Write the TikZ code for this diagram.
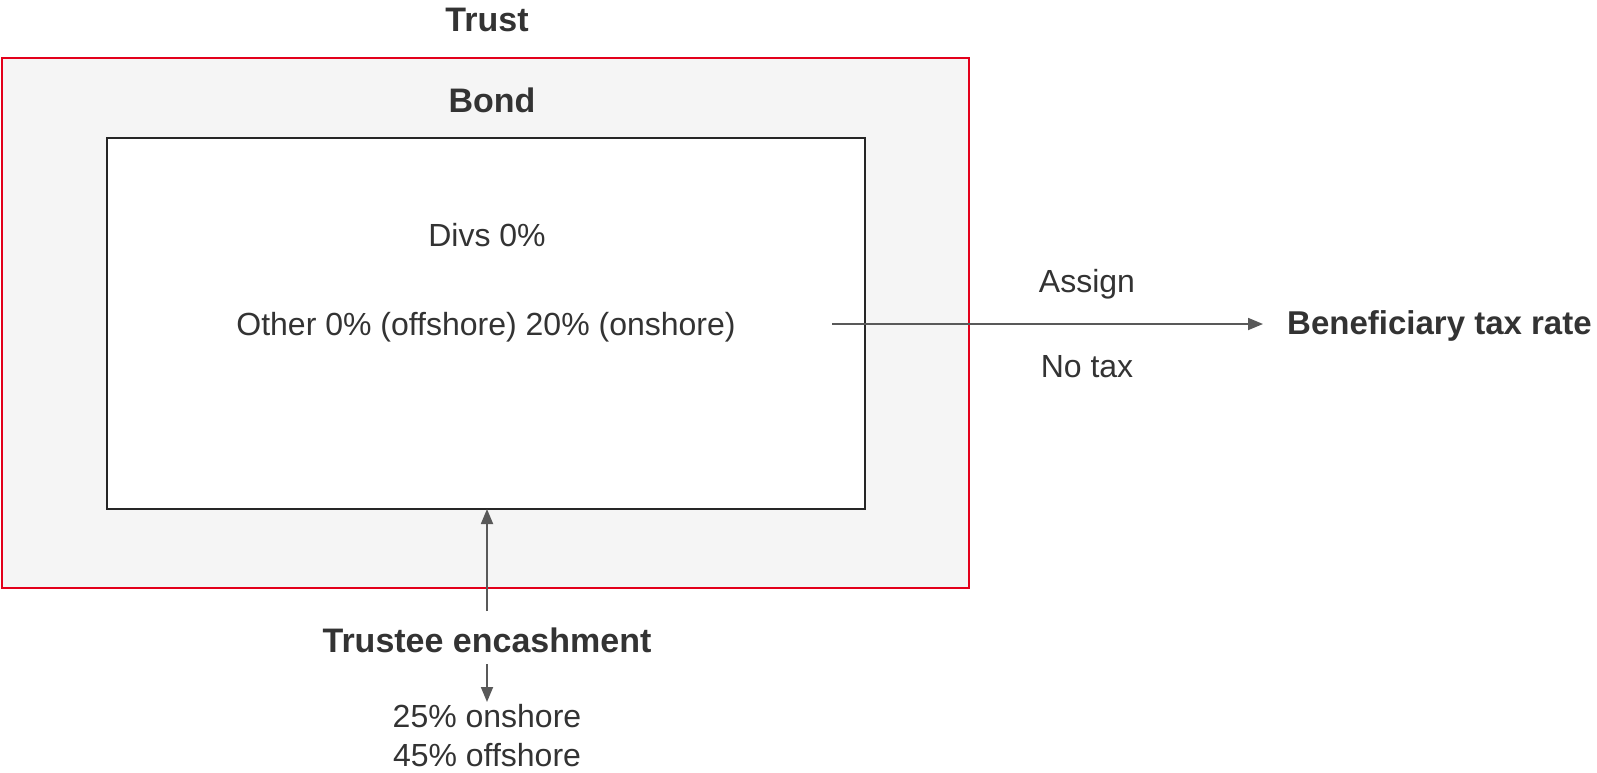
\documentclass[tikz,border=0pt]{standalone}
\usepackage{fontspec}
\setmainfont{Liberation Sans}
\usepackage{xcolor}
\usetikzlibrary{arrows.meta}

\definecolor{trustred}{HTML}{E3001B}
\definecolor{bondgrey}{HTML}{F5F5F5}
\definecolor{inkgrey}{HTML}{333333}
\definecolor{arrowgrey}{HTML}{595959}

\begin{document}
\begin{tikzpicture}[x=1pt,y=-1pt,line join=miter,
    flow/.style={-{Triangle[length=15pt,width=12pt]},arrowgrey,line width=1.8pt},
    plain/.style={inkgrey,font=\fontsize{32}{38}\selectfont,inner sep=0pt},
    heading/.style={inkgrey,font=\fontsize{34}{40}\selectfont\bfseries,inner sep=0pt}]
  \useasboundingbox (0,0) rectangle (1597,772);
  % trust and bond boxes
  \draw[trustred,fill=bondgrey,line width=2.6pt] (2,58) rectangle (969,588);
  \draw[black!85,fill=white,line width=2.6pt] (107,138) rectangle (865,509);
  \coordinate (bond) at (487,509);
  \coordinate (otherend) at (832,324);
  \coordinate (benefin) at (1263,324);
  \coordinate (trusteeup) at (487,611);
  \coordinate (trusteedown) at (487,664);
  \coordinate (ratesin) at (487,702);
  \node[heading] (trust) at (487,20) {Trust};
  \node[heading] (bondlbl) at (492,100) {Bond};
  \node[plain] (divs) at (487,235) {Divs 0\%};
  \node[plain] (other) at (486,327) {Other 0\% (offshore) 20\% (onshore)};
  % assignment to the beneficiary
  \node[heading,anchor=west,font=\fontsize{33}{40}\selectfont\bfseries] (benef) at (1287,326) {Beneficiary tax rate};
  \node[plain] (assign) at (1087,284) {Assign};
  \node[plain] (notax) at (1087,367) {No tax};
  \draw[flow] (otherend) -- (benefin);
  % encashment by the trustees
  \node[heading] (trustee) at (487,640) {Trustee encashment};
  \node[plain,align=center,font=\fontsize{32}{39}\selectfont] (rates) at (487,736) {25\% onshore\\45\% offshore};
  \draw[flow] (trusteeup) -- (bond);
  \draw[flow] (trusteedown) -- (ratesin);
\end{tikzpicture}
\end{document}
